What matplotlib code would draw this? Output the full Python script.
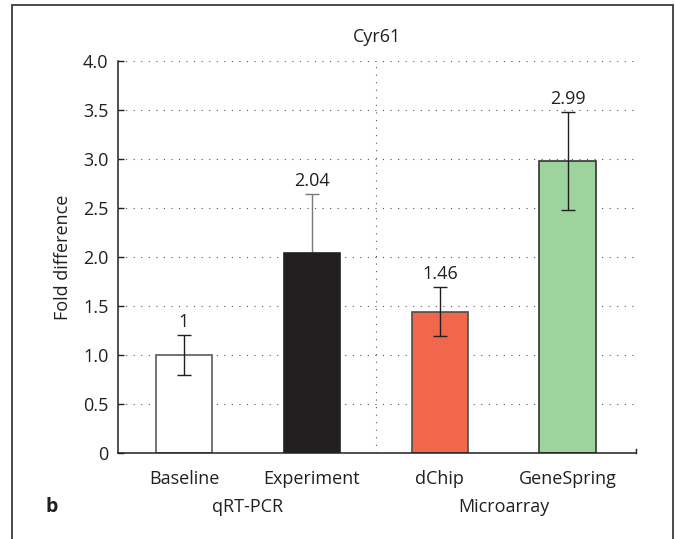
import matplotlib
matplotlib.use("Agg")
import matplotlib.pyplot as plt
from matplotlib.patches import Rectangle

plt.rcParams['font.family'] = ['Open Sans', 'DejaVu Sans']

categories = ["Baseline", "Experiment", "dChip", "GeneSpring"]
values = [1.0, 2.04, 1.44, 2.98]
value_labels = ["1", "2.04", "1.46", "2.99"]
errors = [0.2, 0.6, 0.25, 0.5]
groups = ["qRT-PCR", "Microarray"]
yticks = [0, 0.5, 1.0, 1.5, 2.0, 2.5, 3.0, 3.5, 4.0]
ytick_labels = ["0", "0.5", "1.0", "1.5", "2.0", "2.5", "3.0", "3.5", "4.0"]

colors = ["#ffffff", "#231f20", "#f1674b", "#9dd39c"]
edgecolors = ["#5a5a5a", "#231f20", "#4d4d4d", "#333333"]
err_colors = ["#231f20", "#7a7a7a", "#231f20", "#231f20"]
err_z = [4, 1, 4, 4]
FS = 13

fig = plt.figure(figsize=(6.76, 5.39), dpi=100)
ax = fig.add_axes([0.1746, 0.1596, 0.7663, 0.7273])

# outer frame
fig.patches.append(Rectangle((11.5 / 676, -0.05), (672.5 - 11.5) / 676, 1.05 - 4.5 / 539,
                             transform=fig.transFigure, fill=False,
                             edgecolor="#3a3a3a", linewidth=1.3, zorder=0))

x = list(range(len(categories)))
dot = (0, (1, 5.8))
for yv in yticks[1:]:
    ax.axhline(yv, color="#555555", linewidth=0.8, linestyle=dot, zorder=0.5)
ax.plot([1.5, 1.5], [0, 4.0], color="#555555", linewidth=0.8, linestyle=dot, zorder=0.5)

ax.bar(x, values, width=0.443, color=colors, edgecolor=edgecolors, linewidth=1.2, zorder=2)
for i in x:
    ax.errorbar(x[i], values[i], yerr=errors[i], fmt="none", ecolor=err_colors[i],
                elinewidth=1.0, capsize=5, capthick=1.0, zorder=err_z[i])
    ax.annotate(value_labels[i], (x[i], values[i] + errors[i]), xytext=(0, 3),
                textcoords="offset points", ha="center", va="bottom",
                fontsize=FS, color="#231f20")

ax.set_xlim(-0.516, 3.534)
ax.set_ylim(0, 4.0)
ax.set_yticks(yticks)
ax.set_yticklabels(ytick_labels, fontsize=FS, color="#231f20")
ax.set_xticks(x)
ax.set_xticklabels(categories, fontsize=FS, color="#231f20")
ax.tick_params(axis="y", direction="in", length=4, width=1, color="#231f20", pad=7)
ax.tick_params(axis="x", length=0, pad=12.5)
for s in ["top", "right"]:
    ax.spines[s].set_visible(False)
for s in ["left", "bottom"]:
    ax.spines[s].set_color("#231f20")
    ax.spines[s].set_linewidth(1.1)
# small end tick at right of x axis
ax.plot([3.534, 3.534], [0, 0.04], color="#231f20", linewidth=1.0, clip_on=False)

ax.set_ylabel("Fold difference", fontsize=FS, color="#231f20", labelpad=8)
ax.set_title("Cyr61", fontsize=FS, color="#231f20", pad=14)

gy = -(506.7 - 453) / (453 - 61)
for gi, g in enumerate(groups):
    ax.text(0.5 + 2 * gi, gy, g, transform=ax.get_xaxis_transform(), fontsize=FS,
            ha="center", va="center", color="#231f20")

fig.text(52 / 676, 1 - 507 / 539, "b", fontsize=14, fontweight="bold",
         ha="center", va="center", color="#231f20")

fig.savefig("out.png", dpi=100)
